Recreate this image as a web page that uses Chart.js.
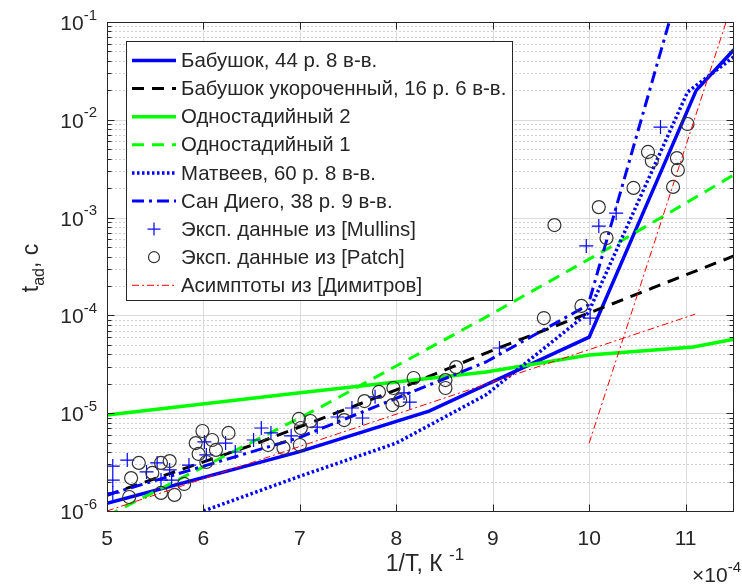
<!DOCTYPE html>
<html>
<head>
<meta charset="utf-8">
<script src="https://cdn.jsdelivr.net/npm/chart.js@4.4.1/dist/chart.umd.min.js"></script>
<style>html,body{margin:0;padding:0;background:#fff}canvas{display:block}</style>
</head>
<body>
<canvas id="chart" width="742" height="585"></canvas>
<script>
// x: 1/T in units of 1e-4 1/K, y: t_ad in s
const babushokX = [5.0, 6.98, 8.34, 10.0, 11.11, 11.5];
const babushokY = [1.2e-6, 4.0e-6, 1.05e-5, 6.0e-5, 2.0e-2, 5.2e-2];
const shortX = [5.0, 6.5, 8.0, 9.0, 10.0, 11.5];
const shortY = [1.45e-6, 4.7e-6, 1.73e-5, 4.4e-5, 1.06e-4, 4.05e-4];
const oneStage2X = [5.0, 6.98, 8.93, 10.0, 11.08, 11.5];
const oneStage2Y = [9.6e-6, 1.61e-5, 2.64e-5, 3.94e-5, 4.75e-5, 5.7e-5];
const oneStage1X = [5.0, 7.22, 8.93, 10.26, 11.5];
const oneStage1Y = [8.9e-7, 1.16e-5, 9.6e-5, 5.25e-4, 2.73e-3];
const matveevX = [6.0, 6.98, 8.0, 8.93, 9.99, 11.02, 11.5];
const matveevY = [1.0e-6, 2.23e-6, 4.95e-6, 1.54e-5, 1.06e-4, 1.92e-2, 4.4e-2];
const sanDiegoX = [5.0, 6.98, 8.93, 9.99, 10.83];
const sanDiegoY = [1.46e-6, 5.57e-6, 3.34e-5, 1.28e-4, 1.0e-1];
const asym1X = [5.0, 11.1];
const asym1Y = [1.0e-6, 1.03e-4];
const asym2X = [10.0, 11.42];
const asym2Y = [4.95e-6, 1.0e-1];

const mullinsX = [5.06, 5.21, 5.06, 5.06, 5.41, 5.52, 5.56, 5.65, 5.67, 5.85, 6.01, 6.03, 6.23, 6.33, 6.52, 6.60,
  6.70, 6.91, 7.18, 7.39, 7.54, 7.65, 7.78, 8.08, 8.14, 9.07, 10.01, 9.97, 10.10, 10.28, 10.74];
const mullinsY = [2.88e-6, 3.32e-6, 2.07e-6, 1.53e-6, 2.51e-6, 3.10e-6, 2.07e-6, 2.63e-6, 2.07e-6, 2.95e-6, 5.08e-6,
  3.74e-6, 4.95e-6, 4.01e-6, 5.32e-6, 7.06e-6, 6.28e-6, 5.85e-6, 7.22e-6, 9.14e-6, 1.13e-5, 8.93e-6, 1.47e-5,
  1.61e-5, 1.30e-5, 4.64e-5, 9.40e-5, 5.13e-4, 8.20e-4, 1.11e-3, 8.43e-3];
const patchX = [5.23, 5.25, 5.33, 5.47, 5.56, 5.56, 5.65, 5.70, 5.80, 5.92, 5.95, 5.99, 6.03, 6.09, 6.13, 6.26, 6.67,
  6.83, 6.99, 7.01, 7.00, 7.11, 7.46, 7.67, 7.82, 7.97, 7.96, 8.04, 8.18, 8.51, 8.51, 8.62, 9.53, 9.92, 9.64, 10.10,
  10.18, 10.46, 10.61, 10.65, 10.91, 10.92, 10.87, 11.02];
const patchY = [1.39e-6, 2.17e-6, 3.10e-6, 2.45e-6, 3.10e-6, 1.53e-6, 3.24e-6, 1.46e-6, 1.89e-6, 4.95e-6, 3.83e-6,
  6.58e-6, 3.17e-6, 5.32e-6, 4.21e-6, 6.28e-6, 4.73e-6, 4.41e-6, 8.73e-6, 7.06e-6, 4.73e-6, 8.32e-6, 8.51e-6,
  1.33e-5, 1.65e-5, 1.81e-5, 1.21e-5, 1.36e-5, 2.29e-5, 2.18e-5, 1.81e-5, 2.96e-5, 9.40e-5, 1.25e-4, 8.39e-4,
  1.28e-3, 6.18e-4, 2.01e-3, 4.69e-3, 3.79e-3, 4.06e-3, 3.07e-3, 2.06e-3, 9.06e-3];

const xTickLabels = [5, 6, 7, 8, 9, 10, 11];
const yTickExponents = [-6, -5, -4, -3, -2, -1];
const legendLabels = [
  'Бабушок, 44 р. 8 в-в.',
  'Бабушок укороченный, 16 р. 6 в-в.',
  'Одностадийный 2',
  'Одностадийный 1',
  'Матвеев, 60 р. 8 в-в.',
  'Сан Диего, 38 р. 9 в-в.',
  'Эксп. данные из [Mullins]',
  'Эксп. данные из [Patch]',
  'Асимптоты из [Димитров]'
];

const FONT = "'Liberation Sans', Arial, sans-serif";
const TEXT = '#262626';
const pts = (xs, ys) => xs.map((x, i) => ({x: x, y: ys[i]}));

function lineSet(xs, ys, color, width, dash) {
  return {data: pts(xs, ys), showLine: true, borderColor: color, borderWidth: width,
    borderDash: dash, pointRadius: 0, fill: false, tension: 0};
}

const styles = [
  {color: '#0000ff', width: 3.5, dash: []},
  {color: '#000000', width: 3, dash: [12, 8]},
  {color: '#00ff00', width: 3.5, dash: []},
  {color: '#00ff00', width: 3, dash: [12, 8]},
  {color: '#0000ff', width: 3.5, dash: [2.5, 2.5]},
  {color: '#0000ff', width: 3, dash: [12, 5, 3, 5]},
  {marker: 'plus', color: '#0000ff'},
  {marker: 'circle', color: '#333333'},
  {color: '#ff0000', width: 1, dash: [7, 3, 2, 3]}
];

const datasets = [
  lineSet(babushokX, babushokY, styles[0].color, styles[0].width, styles[0].dash),
  lineSet(shortX, shortY, styles[1].color, styles[1].width, styles[1].dash),
  lineSet(oneStage2X, oneStage2Y, styles[2].color, styles[2].width, styles[2].dash),
  lineSet(oneStage1X, oneStage1Y, styles[3].color, styles[3].width, styles[3].dash),
  lineSet(matveevX, matveevY, styles[4].color, styles[4].width, styles[4].dash),
  lineSet(sanDiegoX, sanDiegoY, styles[5].color, styles[5].width, styles[5].dash),
  {data: pts(mullinsX, mullinsY), showLine: false, pointStyle: 'cross', pointRadius: 7,
    borderColor: '#0000ff', borderWidth: 1.2},
  {data: pts(patchX, patchY), showLine: false, pointStyle: 'circle', pointRadius: 6.5,
    backgroundColor: 'rgba(0,0,0,0)', borderColor: '#333333', borderWidth: 1.2},
  lineSet(asym1X, asym1Y, styles[8].color, styles[8].width, styles[8].dash),
  lineSet(asym2X, asym2Y, styles[8].color, styles[8].width, styles[8].dash)
];
datasets.forEach((d, i) => { d.order = -i; });

function seg(ctx, x1, y1, x2, y2) {
  ctx.beginPath(); ctx.moveTo(x1, y1); ctx.lineTo(x2, y2); ctx.stroke();
}

function supText(ctx, base, sup, x, y, size, align) {
  ctx.font = size + 'px ' + FONT;
  const wb = ctx.measureText(base).width;
  const ss = Math.round(size * 0.72);
  ctx.font = ss + 'px ' + FONT;
  const ws = ctx.measureText(sup).width;
  let left = x;
  if (align === 'right') left = x - wb - ws;
  if (align === 'center') left = x - (wb + ws) / 2;
  ctx.textAlign = 'left';
  ctx.textBaseline = 'alphabetic';
  ctx.font = size + 'px ' + FONT;
  ctx.fillText(base, left, y);
  ctx.font = ss + 'px ' + FONT;
  ctx.fillText(sup, left + wb, y - size * 0.5);
}

const matlabAxes = {
  id: 'matlabAxes',
  beforeDatasetsDraw(chart) {
    const {ctx, chartArea: a, scales: {x, y}} = chart;
    ctx.save();
    ctx.lineWidth = 1;
    // minor y grid, dotted
    ctx.strokeStyle = '#d0d0d0';
    ctx.setLineDash([2, 2]);
    for (let e = -6; e < -1; e++) {
      for (let m = 2; m <= 9; m++) {
        const py = Math.round(y.getPixelForValue(m * Math.pow(10, e))) + 0.5;
        seg(ctx, a.left, py, a.right, py);
      }
    }
    ctx.setLineDash([]);
    ctx.strokeStyle = '#dcdcdc';
    yTickExponents.forEach(e => {
      const py = Math.round(y.getPixelForValue(Math.pow(10, e))) + 0.5;
      seg(ctx, a.left, py, a.right, py);
    });
    xTickLabels.forEach(v => {
      const px = Math.round(x.getPixelForValue(v)) + 0.5;
      seg(ctx, px, a.top, px, a.bottom);
    });
    ctx.restore();
  },
  afterDatasetsDraw(chart) {
    const {ctx, chartArea: a, scales: {x, y}} = chart;
    ctx.save();
    ctx.strokeStyle = TEXT;
    ctx.lineWidth = 1;
    ctx.setLineDash([]);
    const L = Math.round(a.left) + 0.5, R = Math.round(a.right) - 0.5;
    const T = Math.round(a.top) + 0.5, B = Math.round(a.bottom) + 0.5;
    ctx.strokeRect(L, T, R - L, B - T);
    // tick marks inside
    for (let e = -6; e <= -1; e++) {
      for (let m = 1; m <= 9; m++) {
        if (e === -1 && m > 1) break;
        const py = Math.round(y.getPixelForValue(m * Math.pow(10, e))) + 0.5;
        const len = m === 1 ? 7 : 4;
        seg(ctx, L, py, L + len, py);
        seg(ctx, R, py, R - len, py);
      }
    }
    xTickLabels.forEach(v => {
      const px = Math.round(x.getPixelForValue(v)) + 0.5;
      seg(ctx, px, B, px, B - 7);
      seg(ctx, px, T, px, T + 7);
    });
    // tick labels
    ctx.fillStyle = TEXT;
    yTickExponents.forEach(e => {
      const py = y.getPixelForValue(Math.pow(10, e));
      supText(ctx, '10', String(e), 97, py + 8, 21, 'right');
    });
    ctx.font = '21px ' + FONT;
    ctx.textAlign = 'center';
    ctx.textBaseline = 'alphabetic';
    xTickLabels.forEach(v => {
      ctx.fillText(String(v), x.getPixelForValue(v), 545);
    });
    // axis titles
    supText(ctx, '1/T, К ', '-1', 425, 571, 23, 'center');
    supText(ctx, '×10', '-4', 741, 582, 21, 'right');
    ctx.save();
    ctx.translate(38, 268);
    ctx.rotate(-Math.PI / 2);
    ctx.font = '23px ' + FONT;
    const wt = ctx.measureText('t').width;
    const wc = ctx.measureText(', c').width;
    ctx.font = '16px ' + FONT;
    const wa = ctx.measureText('ad').width;
    let sx = -(wt + wa + wc) / 2;
    ctx.textAlign = 'left';
    ctx.font = '23px ' + FONT;
    ctx.fillText('t', sx, 0);
    ctx.font = '16px ' + FONT;
    ctx.fillText('ad', sx + wt, 6);
    ctx.font = '23px ' + FONT;
    ctx.fillText(', c', sx + wt + wa, 0);
    ctx.restore();
    // legend
    const lx = 126.5, ly = 41.5, lw = 386, lh = 259;
    ctx.fillStyle = '#ffffff';
    ctx.fillRect(lx, ly, lw, lh);
    ctx.strokeStyle = TEXT;
    ctx.strokeRect(lx, ly, lw, lh);
    legendLabels.forEach((label, i) => {
      const cy = 60.5 + i * 28.1;
      const st = styles[i];
      ctx.save();
      if (st.marker === 'plus') {
        ctx.strokeStyle = st.color; ctx.lineWidth = 1.2;
        seg(ctx, 154, cy - 6.5, 154, cy + 6.5);
        seg(ctx, 147.5, cy, 160.5, cy);
      } else if (st.marker === 'circle') {
        ctx.strokeStyle = st.color; ctx.lineWidth = 1.2;
        ctx.beginPath(); ctx.arc(154, cy, 5.5, 0, Math.PI * 2); ctx.stroke();
      } else {
        ctx.strokeStyle = st.color; ctx.lineWidth = st.width;
        ctx.setLineDash(st.dash);
        seg(ctx, 132, cy, 176, cy);
      }
      ctx.restore();
      ctx.fillStyle = TEXT;
      ctx.font = '20.4px ' + FONT;
      ctx.textAlign = 'left';
      ctx.textBaseline = 'middle';
      ctx.fillText(label, 181, cy + 1);
    });
    ctx.restore();
  }
};

new Chart(document.getElementById('chart'), {
  type: 'scatter',
  data: {datasets: datasets},
  options: {
    responsive: false,
    animation: false,
    events: [],
    layout: {padding: {top: 22, right: 1, left: 0, bottom: 0}},
    plugins: {legend: {display: false}, tooltip: {enabled: false}},
    scales: {
      x: {
        type: 'linear', min: 5, max: 11.5,
        ticks: {display: false}, grid: {display: false}, border: {display: false},
        afterFit: s => { s.height = 74; }
      },
      y: {
        type: 'logarithmic', min: 1e-6, max: 0.1,
        ticks: {display: false}, grid: {display: false}, border: {display: false},
        afterFit: s => { s.width = 107; }
      }
    }
  },
  plugins: [matlabAxes]
});
</script>
</body>
</html>
